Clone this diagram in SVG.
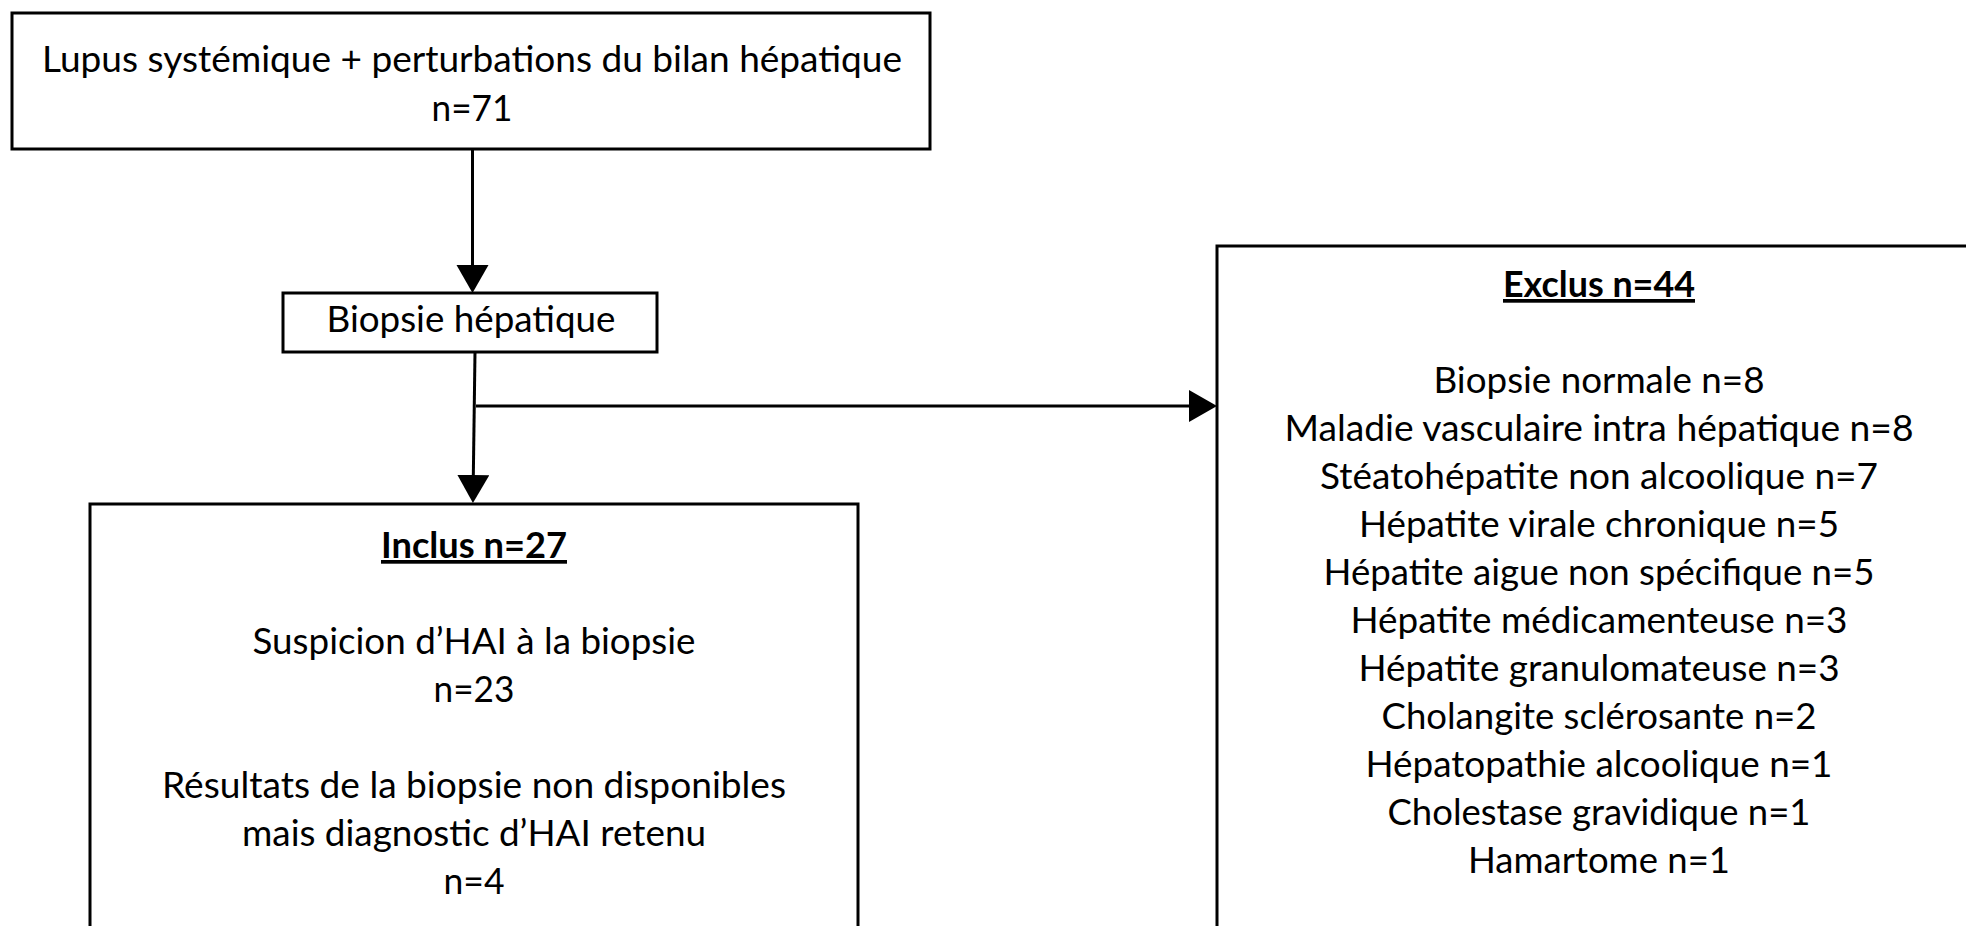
<svg xmlns="http://www.w3.org/2000/svg" width="1966" height="926" viewBox="0 0 1966 926">
<style>
  .box{fill:#fff;stroke:#000;stroke-width:3}
  .t{font-family:Lato,"Open Sans","Liberation Sans",sans-serif;font-size:37px;fill:#000;text-anchor:middle}
  .b{font-weight:700;text-decoration:underline}
  .c{stroke:#000;stroke-width:3;fill:none}
</style>
<defs>
  <marker id="ah" markerUnits="userSpaceOnUse" markerWidth="30" markerHeight="34" viewBox="0 0 30 34" refX="24" refY="16" orient="auto">
    <path d="M0,0 L28,16 L0,32 z" fill="#000"/>
  </marker>
</defs>
<rect width="1966" height="926" fill="#fff"/>

<g id="connectors">
  <line class="c" x1="472.5" y1="149" x2="472.5" y2="289" marker-end="url(#ah)"/>
  <line class="c" x1="475" y1="352" x2="473" y2="499" marker-end="url(#ah)"/>
  <line class="c" x1="476" y1="406" x2="1213" y2="406" marker-end="url(#ah)"/>
</g>

<g id="node-lupus">
  <rect class="box" x="12" y="13" width="918" height="136"/>
  <text class="t" x="472" y="72" textLength="860" lengthAdjust="spacingAndGlyphs">Lupus systémique + perturbations du bilan hépatique</text>
  <text class="t" x="472" y="121" textLength="81" lengthAdjust="spacingAndGlyphs">n=71</text>
</g>

<g id="node-biopsie">
  <rect class="box" x="283" y="293" width="374" height="59"/>
  <text class="t" x="471" y="332" textLength="289" lengthAdjust="spacingAndGlyphs">Biopsie hépatique</text>
</g>

<g id="node-inclus">
  <rect class="box" x="90" y="504" width="768" height="440"/>
  <text class="t b" x="474" y="558" textLength="186" lengthAdjust="spacingAndGlyphs">Inclus n=27</text>
  <text class="t" x="474" y="654" textLength="443" lengthAdjust="spacingAndGlyphs">Suspicion d’HAI à la biopsie</text>
  <text class="t" x="474" y="702" textLength="81" lengthAdjust="spacingAndGlyphs">n=23</text>
  <text class="t" x="474" y="798" textLength="624" lengthAdjust="spacingAndGlyphs">Résultats de la biopsie non disponibles</text>
  <text class="t" x="474" y="846" textLength="464" lengthAdjust="spacingAndGlyphs">mais diagnostic d’HAI retenu</text>
  <text class="t" x="474" y="894" textLength="61" lengthAdjust="spacingAndGlyphs">n=4</text>
</g>

<g id="node-exclus">
  <rect class="box" x="1217" y="246" width="770" height="700"/>
  <text class="t b" x="1599" y="297" textLength="192" lengthAdjust="spacingAndGlyphs">Exclus n=44</text>
  <text class="t" x="1599" y="393" textLength="331" lengthAdjust="spacingAndGlyphs">Biopsie normale n=8</text>
  <text class="t" x="1599" y="441" textLength="629" lengthAdjust="spacingAndGlyphs">Maladie vasculaire intra hépatique n=8</text>
  <text class="t" x="1599" y="489" textLength="558" lengthAdjust="spacingAndGlyphs">Stéatohépatite non alcoolique n=7</text>
  <text class="t" x="1599" y="537" textLength="480" lengthAdjust="spacingAndGlyphs">Hépatite virale chronique n=5</text>
  <text class="t" x="1599" y="585" textLength="551" lengthAdjust="spacingAndGlyphs">Hépatite aigue non spécifique n=5</text>
  <text class="t" x="1599" y="633" textLength="497" lengthAdjust="spacingAndGlyphs">Hépatite médicamenteuse n=3</text>
  <text class="t" x="1599" y="681" textLength="481" lengthAdjust="spacingAndGlyphs">Hépatite granulomateuse n=3</text>
  <text class="t" x="1599" y="729" textLength="435" lengthAdjust="spacingAndGlyphs">Cholangite sclérosante n=2</text>
  <text class="t" x="1599" y="777" textLength="467" lengthAdjust="spacingAndGlyphs">Hépatopathie alcoolique n=1</text>
  <text class="t" x="1599" y="825" textLength="423" lengthAdjust="spacingAndGlyphs">Cholestase gravidique n=1</text>
  <text class="t" x="1599" y="873" textLength="262" lengthAdjust="spacingAndGlyphs">Hamartome n=1</text>
</g>
</svg>
